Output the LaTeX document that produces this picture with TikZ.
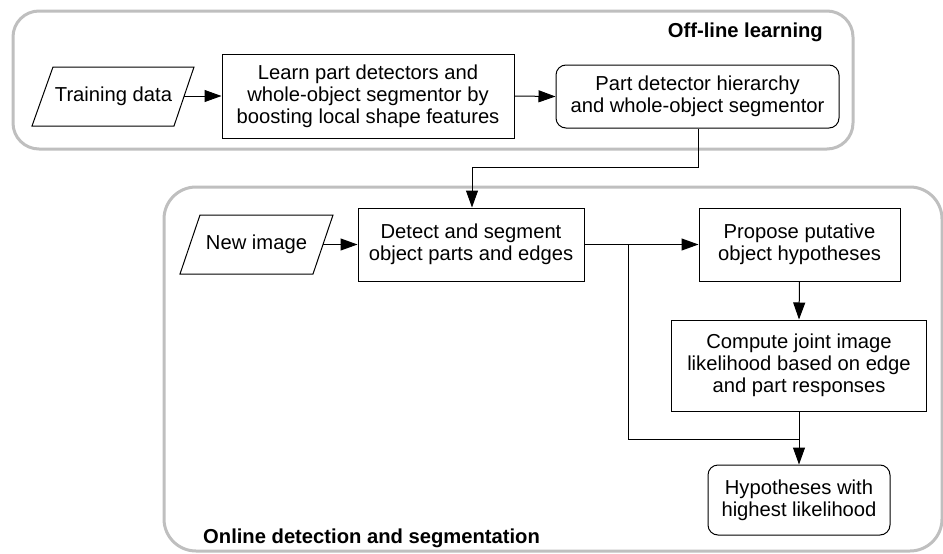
\documentclass[tikz,border=0pt]{standalone}
\usepackage{fontspec}
\setmainfont{Liberation Sans}
\usetikzlibrary{arrows.meta}
\definecolor{framegray}{HTML}{BFBFBF}
\begin{document}
\begin{tikzpicture}[x=1pt,y=-1pt,
  every node/.style={font=\fontsize{20.2}{22}\selectfont, inner sep=0pt, align=center},
  proc/.style={draw, line width=1pt},
  term/.style={draw, line width=1pt, rounded corners=10pt},
  frame/.style={draw=framegray, line width=3pt},
  conn/.style={line width=1pt},
  arr/.style={line width=1pt, -{Triangle[length=17pt,width=12pt]}},
  title/.style={font=\fontsize{20.2}{22}\selectfont\bfseries}
]
\useasboundingbox (0,0) rectangle (943,554);
% frames
\draw[frame, rounded corners=26pt] (13,11) rectangle (853,149);
\draw[frame, rounded corners=32pt] (164,187) rectangle (942,551);
\node[title, anchor=base east] (offl) at (823,37.5) {Off-line learning};
\node[title, anchor=base west] (onl) at (203,543) {Online detection and segmentation};

% off-line
\draw[conn] (53,67) -- (194,67) -- (174,126) -- (32,126) -- cycle;
\node (train) at (113.5,96.5) {Training data};
\coordinate (trainR) at (184,96);
\node[proc, minimum width=292pt, minimum height=84pt] (learn) at (368,96)
  {Learn part detectors and\\whole-object segmentor by\\boosting local shape features};
\node[term, minimum width=283pt, minimum height=63pt] (part) at (697.5,96.5)
  {Part detector hierarchy\\and whole-object segmentor};

% on-line
\draw[conn] (200,215) -- (333,215) -- (313,274) -- (180,274) -- cycle;
\node (newimg) at (256.5,244.5) {New image};
\coordinate (newR) at (323,244.5);
\node[proc, minimum width=226pt, minimum height=73pt] (detect) at (471,244.5)
  {Detect and segment\\object parts and edges};
\node[proc, minimum width=201pt, minimum height=73pt] (propose) at (799.5,244.5)
  {Propose putative\\object hypotheses};
\node[proc, minimum width=255pt, minimum height=91pt] (compute) at (799,365.5)
  {Compute joint image\\likelihood based on edge\\and part responses};
\node[term, minimum width=182pt, minimum height=70pt] (hyp) at (799,500)
  {Hypotheses with\\highest likelihood};

% connectors
\draw[arr] (trainR) -- (learn.west);
\draw[arr] (learn.east) -- (part.west);
\coordinate (bend) at (472,167);
\draw[arr] (part.south -| 698,0) -- (698,167) -- (bend) -- (detect.north -| bend);
\draw[arr] (newR) -- (detect.west);
\draw[arr] (detect.east) -- (propose.west);
\draw[arr] (propose.south) -- (compute.north);
\draw[arr] (compute.south) -- (hyp.north);
\coordinate (fb) at (628,439);
\draw[conn] (compute.south |- fb) -- (fb) -- (fb |- detect.east);
\end{tikzpicture}
\end{document}
